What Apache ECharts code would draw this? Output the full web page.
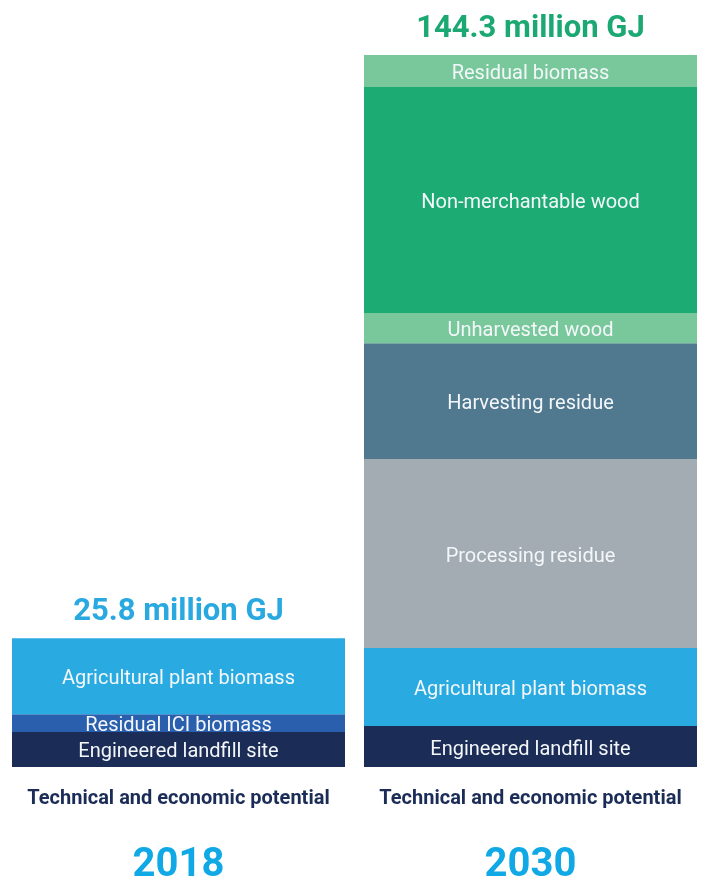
<!DOCTYPE html>
<html>
<head>
<meta charset="utf-8">
<script src="https://cdn.jsdelivr.net/npm/echarts@6/dist/echarts.min.js"></script>
<style>html,body{margin:0;padding:0;background:#fff;}#c{width:702px;height:880px;}</style>
</head>
<body>
<div id="c"></div>
<script>
const categories = ['2018', '2030'];
const subtitle = 'Technical and economic potential';
const totals = [25.8, 144.3];
const totalLabels = ['25.8 million GJ', '144.3 million GJ'];
const landfill = [7.1, 8.3];
const residualICI = [3.6, 0];
const agricultural = [15.4, 15.8];
const processing = [0, 38.3];
const harvesting = [0, 23.5];
const unharvested = [0, 6.1];
const nonMerchantable = [0, 45.8];
const residualBiomass = [0, 6.5];

const seriesDefs = [
  ['Engineered landfill site', landfill, '#1b2c57'],
  ['Residual ICI biomass', residualICI, '#2a5fae'],
  ['Agricultural plant biomass', agricultural, '#29abe2'],
  ['Processing residue', processing, '#a2acb2'],
  ['Harvesting residue', harvesting, '#50788f'],
  ['Unharvested wood', unharvested, '#79c89b'],
  ['Non-merchantable wood', nonMerchantable, '#1dab74'],
  ['Residual biomass', residualBiomass, '#79c89b']
];
const FONT = 'Roboto';
const series = seriesDefs.map(([name, data, color]) => ({
  name, type: 'bar', stack: 'total', data, barWidth: 333,
  itemStyle: { color },
  label: {
    show: true, position: 'inside', offset: [0, 3], color: '#f4f7fa', fontSize: 20, fontFamily: FONT,
    formatter: p => p.value ? p.seriesName : ''
  },
  emphasis: { disabled: true }
}));
const totalColors = ['#29a9e0', '#1ca873'];
series.push({
  name: 'Total', type: 'bar', stack: 'total', data: [0, 0], barWidth: 333,
  itemStyle: { color: 'transparent' },
  label: {
    show: true, position: 'top', distance: 10,
    formatter: p => '{t' + p.dataIndex + '|' + totalLabels[p.dataIndex] + '}',
    rich: {
      t0: { fontSize: 31, fontWeight: 'bold', color: totalColors[0], fontFamily: FONT },
      t1: { fontSize: 31, fontWeight: 'bold', color: totalColors[1], fontFamily: FONT }
    }
  }
});

const chart = echarts.init(document.getElementById('c'));
chart.setOption({
  animation: false,
  grid: { left: 2.5, width: 704, top: 55, height: 712, outerBoundsMode: 'none', containLabel: false },
  xAxis: {
    type: 'category', data: categories,
    axisLine: { show: false }, axisTick: { show: false },
    axisLabel: {
      interval: 0, margin: 21,
      formatter: v => '{a|' + subtitle + '}\n{b|' + v + '}',
      rich: {
        a: { fontSize: 20, fontWeight: 'bold', color: '#1b2c57', lineHeight: 22, fontFamily: FONT },
        b: { fontSize: 40, fontWeight: 'bold', color: '#10a9e6', lineHeight: 112, fontFamily: FONT }
      }
    }
  },
  yAxis: { type: 'value', min: 0, max: 144.3, show: false, splitLine: { show: false } },
  series
});
</script>
</body>
</html>
